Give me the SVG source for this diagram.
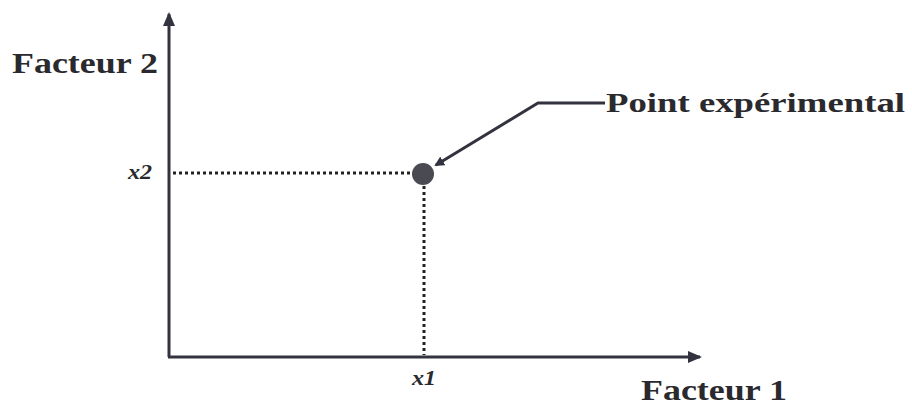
<svg xmlns="http://www.w3.org/2000/svg" width="912" height="405" viewBox="0 0 912 405">
<style>
.lbl{font-family:"Liberation Serif","Times New Roman",serif;font-weight:bold;fill:#2a2a2e}
.var{font-family:"Liberation Serif","Times New Roman",serif;font-weight:bold;font-style:italic;font-size:20px;fill:#2a2a2e}
.axis{stroke:#333340;stroke-width:3;fill:none}
.dot{stroke:#222;stroke-width:3;stroke-dasharray:3 3;fill:none}
</style>
<defs>
<marker id="ah" markerWidth="10" markerHeight="10" refX="8" refY="5" orient="auto" markerUnits="userSpaceOnUse">
<path d="M0,0 L10,5 L0,10 Z" fill="#333340"/>
</marker>
<marker id="ah2" markerWidth="14" markerHeight="12" refX="12" refY="6" orient="auto" markerUnits="userSpaceOnUse">
<path d="M0,0 L14,6 L0,12 Z" fill="#333340"/>
</marker>
</defs>
<g id="connectors">
<line class="axis" x1="169" y1="357" x2="169" y2="14" marker-end="url(#ah2)"/>
<line class="axis" x1="168" y1="357" x2="700" y2="357" marker-end="url(#ah2)"/>
<line class="dot" x1="173" y1="173" x2="411" y2="173"/>
<line class="dot" x1="424" y1="186" x2="424" y2="355"/>
<polyline points="605,103 538,103 436,165" stroke="#333340" stroke-width="3" fill="none" marker-end="url(#ah)"/>
</g>
<g id="point">
<circle cx="423" cy="174" r="11" fill="#4a4a52"/>
</g>
<g id="facteur2">
<text class="lbl" x="12" y="73" font-size="29" textLength="146" lengthAdjust="spacingAndGlyphs">Facteur 2</text>
</g>
<g id="facteur1">
<text class="lbl" x="641" y="400" font-size="29" textLength="146" lengthAdjust="spacingAndGlyphs">Facteur 1</text>
</g>
<g id="label-point">
<text class="lbl" x="606" y="112" font-size="27" textLength="299" lengthAdjust="spacingAndGlyphs">Point expérimental</text>
</g>
<g id="x2">
<text class="var" x="128" y="179" textLength="24" lengthAdjust="spacingAndGlyphs">x2</text>
</g>
<g id="x1">
<text class="var" x="412" y="385" textLength="24" lengthAdjust="spacingAndGlyphs">x1</text>
</g>
</svg>
